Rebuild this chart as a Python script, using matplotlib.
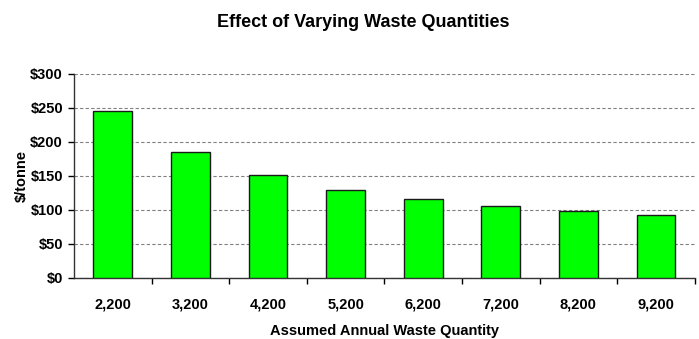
import matplotlib
matplotlib.use("Agg")
import matplotlib.pyplot as plt
from matplotlib.ticker import FixedLocator, FuncFormatter

plt.rcParams['font.family'] = ['Liberation Sans', 'DejaVu Sans']

# annual waste quantity (tonnes) vs unit cost
quantities = ["2,200", "3,200", "4,200", "5,200", "6,200", "7,200", "8,200", "9,200"]
cost_per_tonne = [245, 185, 151, 130, 116, 106, 98, 92]

fig = plt.figure(figsize=(6.99, 3.39), dpi=100)
ax = fig.add_axes([0.106, 0.18, 0.888, 0.602])

x = list(range(len(quantities)))
ax.bar(x, cost_per_tonne, width=0.5, color="#00ff00", edgecolor="#1a1a1a",
       linewidth=1.0, zorder=3)

ax.set_xlim(-0.5, len(quantities) - 0.5)
ax.set_ylim(0, 300)
ax.set_yticks(range(0, 301, 50))
ax.yaxis.set_major_formatter(FuncFormatter(lambda v, p: f"${v:.0f}"))
ax.grid(axis="y", color="#808080", linestyle=(0, (3, 2)), linewidth=0.8, zorder=0)

# category labels centred, tick marks between categories
ax.set_xticks(x)
ax.set_xticklabels(quantities, fontsize=10.5, fontweight="bold")
ax.tick_params(axis="x", which="major", length=0, pad=14)
ax.xaxis.set_minor_locator(FixedLocator([i + 0.5 for i in x]))
ax.tick_params(axis="x", which="minor", length=4, width=1, direction="out")
ax.tick_params(axis="y", length=4, width=1, labelsize=10.5, pad=4)
for lbl in ax.get_yticklabels():
    lbl.set_fontweight("bold")

for side in ("top", "right"):
    ax.spines[side].set_visible(False)
for side in ("left", "bottom"):
    ax.spines[side].set_color("#333333")
    ax.spines[side].set_linewidth(1.0)

ax.set_ylabel("$/tonne", fontsize=10.5, fontweight="bold", labelpad=1)
ax.set_xlabel("Assumed Annual Waste Quantity", fontsize=10.5, fontweight="bold", labelpad=9)
fig.suptitle("Effect of Varying Waste Quantities", x=0.52, y=0.96,
             fontsize=13, fontweight="bold")

fig.savefig("out.png", dpi=100)
